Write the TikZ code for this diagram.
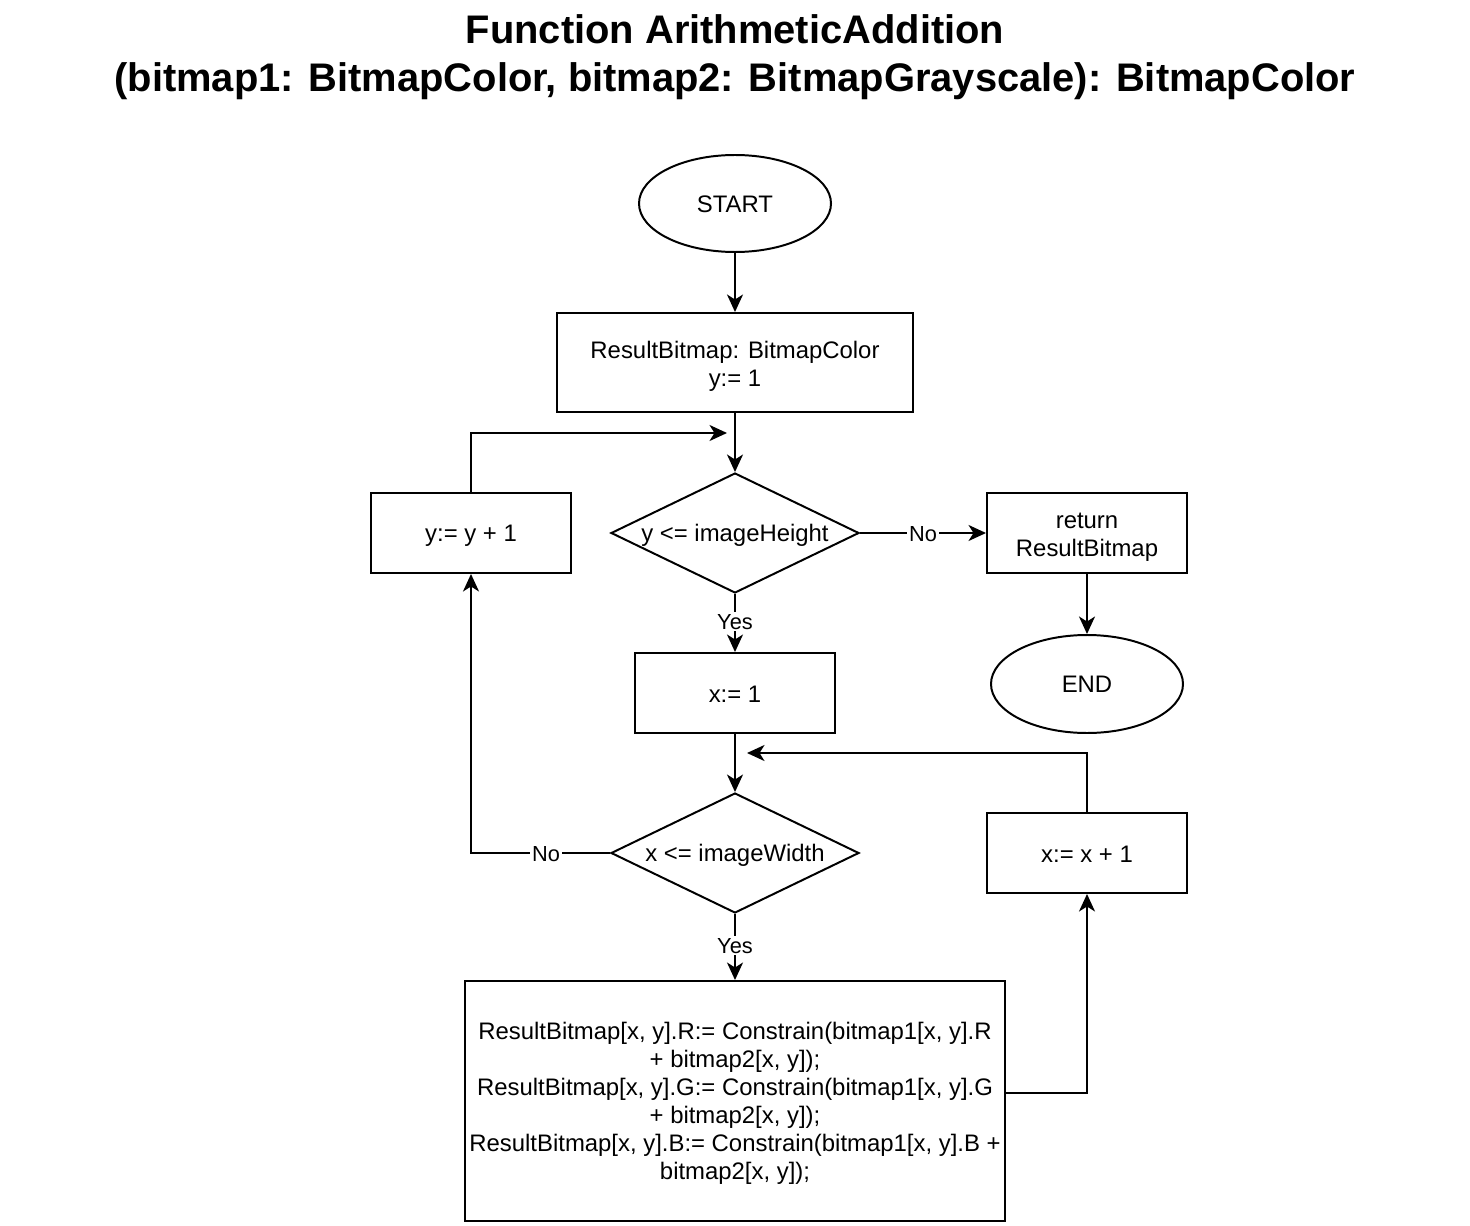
\documentclass[tikz,border=0pt]{standalone}
\usepackage{fontspec}
\setmainfont{Liberation Sans}
\usetikzlibrary{arrows.meta,shapes.geometric}
\begin{document}
\begin{tikzpicture}[x=0.02cm,y=-0.02cm,
  every node/.style={font=\fontsize{13.6pt}{15.9pt}\selectfont, align=center, inner sep=0pt},
  box/.style={draw, line width=1.13pt, minimum width=#1*0.02cm, minimum height=80*0.02cm},
  term/.style={draw, ellipse, line width=1.13pt, minimum width=192*0.02cm, minimum height=97*0.02cm},
  dec/.style={draw, diamond, line width=1.13pt, minimum width=248*0.02cm, minimum height=120*0.02cm, aspect=2.07},
  conn/.style={line width=1.13pt, -{Stealth[length=0.35cm,width=0.32cm,inset=0.1cm]}},
  lbl/.style={fill=white, font=\fontsize{12.4pt}{14pt}\selectfont, inner sep=1pt}]
\useasboundingbox (0,0) rectangle (1470,1226);

\node[font=\bfseries\fontsize{22.7pt}{27.2pt}\selectfont] (title) at (735,57) {Function ArithmeticAddition\\(bitmap1: BitmapColor, bitmap2: BitmapGrayscale): BitmapColor};

\node[term] (start) at (735,203.5) {};
\node (startT) at (735,204) {START};
\node[box=356, minimum height=99*0.02cm] (init) at (735,362.5) {};
\node (initT) at (735,366.5) {ResultBitmap: BitmapColor\\y:= 1};
\node[dec] (d1) at (735,533) {};
\node (d1T) at (735,535) {y <= imageHeight};
\node[box=200] (incy) at (471,533) {};
\node (incyT) at (471,536) {y:= y + 1};
\node[box=200] (ret) at (1087,533) {};
\node (retT) at (1087,537) {return\\ResultBitmap};
\node[term, minimum height=98*0.02cm] (end) at (1087,684) {};
\node (endT) at (1087,684.5) {END};
\node[box=200] (x1) at (735,693) {};
\node (x1T) at (735,694) {x:= 1};
\node[dec] (d2) at (735,853) {};
\node (d2T) at (735,855) {x <= imageWidth};
\node[box=200] (incx) at (1087,853) {};
\node (incxT) at (1087,854) {x:= x + 1};
\node[box=540, minimum height=240*0.02cm] (body) at (735,1101) {};
\node (bodyT) at (735,1103) {ResultBitmap[x, y].R:= Constrain(bitmap1[x, y].R\\+ bitmap2[x, y]);\\ResultBitmap[x, y].G:= Constrain(bitmap1[x, y].G\\+ bitmap2[x, y]);\\ResultBitmap[x, y].B:= Constrain(bitmap1[x, y].B +\\bitmap2[x, y]);};

\coordinate (m1) at (727,433);
\coordinate (m2) at (747,753);
\coordinate (c1) at (471,853);
\coordinate (c2) at (1005,1093);

\draw[conn] (start) -- (init);
\draw[conn] (init) -- (d1);
\draw[conn] (incy.north) |- (m1);
\draw[conn] (d1.east) -- node[lbl, yshift=-1*0.02cm]{No} (ret.west);
\draw[conn] (ret) -- (end);
\draw[conn] (d1.south) -- node[lbl, pos=0.48]{Yes} (x1.north);
\draw[conn] (x1) -- (d2);
\draw[conn] (d2.west) -- node[lbl, pos=0.46, yshift=-1*0.02cm]{No} (c1) -- (incy.south);
\draw[conn] (d2.south) -- node[lbl, pos=0.48]{Yes} (body.north);
\draw[conn] (c2) -| (incx.south);
\draw[conn] (incx.north) |- (m2);
\end{tikzpicture}
\end{document}
